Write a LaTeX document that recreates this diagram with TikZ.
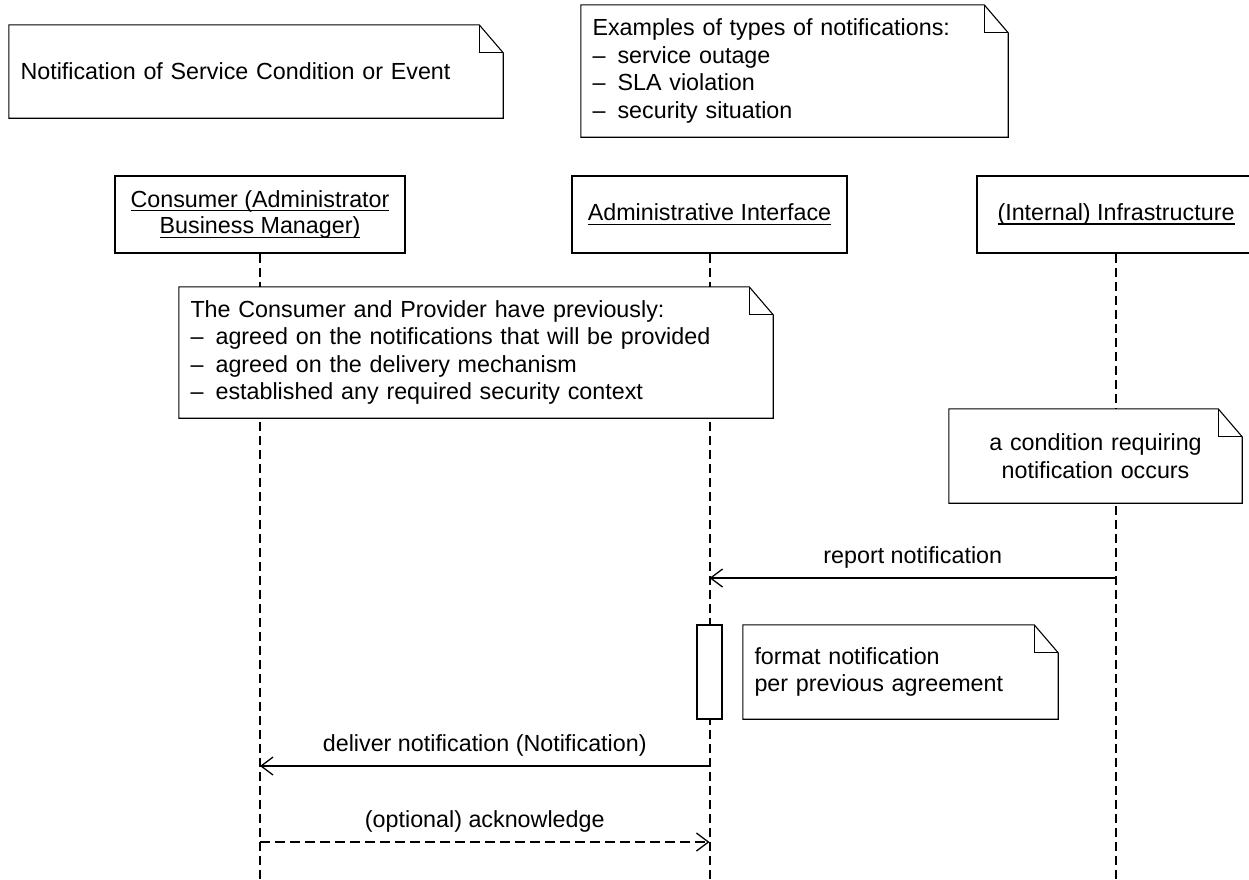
\documentclass[tikz,border=0pt]{standalone}
\usepackage{fontspec}
\setmainfont{Liberation Sans}
\usetikzlibrary{arrows.meta}

% outline of a UML note with a folded top-right corner
\newcommand\dogear[1]{%
  \draw[noteline] (#1.north west) -- ([xshift=-24pt]#1.north east)
    -- ([yshift=-28pt]#1.north east) -- (#1.south east) -- (#1.south west) -- cycle;
  \draw[noteline] ([xshift=-24pt]#1.north east) |- ([yshift=-28pt]#1.north east);}

% underline at a fixed distance below the baseline
\newcommand\ulname[1]{\setbox0\hbox{#1}\rlap{\rule[-4pt]{\wd0}{1.2pt}}\box0}

\begin{document}
\begin{tikzpicture}[x=1pt,y=-1pt,
  every node/.style={font=\fontsize{23.3}{27.5}\selectfont, text=black},
  note/.style={fill=white, inner xsep=11.5pt, inner ysep=0pt, align=left},
  noteline/.style={line width=1.1pt, line join=miter},
  head/.style={draw, line width=1.1pt, fill=white, inner sep=0pt,
               minimum height=77pt, align=center},
  lifeline/.style={line width=2pt, dash pattern=on 9pt off 5pt},
  msg/.style={line width=1.3pt,
              -{Straight Barb[length=12pt,width=18pt,line width=1.3pt]}},
  reply/.style={msg, dash pattern=on 10pt off 5pt},
  lbl/.style={anchor=base, yshift=15pt, inner sep=0pt}]

\useasboundingbox (0,0) rectangle (1249,879);

% participants
\node[head, minimum width=290pt] (cons) at (260,214.5)
  {\ulname{Consumer (Administrator}\\[-1pt]\ulname{Business Manager)}};
\node[head, minimum width=275pt] (admin) at (709.5,214.5)
  {\ulname{Administrative Interface}};
\node[head, minimum width=278pt] (infra) at (1116,214.5)
  {\ulname{(Internal) Infrastructure}};

% lifelines
\coordinate (floor) at (0,885);
\draw[lifeline] (cons.south) -- (cons.south |- floor);
\draw[lifeline] (admin.south) -- (admin.south |- floor);
\draw[lifeline] (infra.south) -- (infra.south |- floor);

% notes
\node[note, minimum width=494pt, minimum height=93pt, text width=471pt]
  (title) at (256,71.5) {Notification of Service Condition or Event};
\dogear{title}

\node[note, minimum width=427pt, minimum height=132pt, text width=404pt]
  (kinds) at (794.5,71)
  {Examples of types of notifications:\\
   \textendash\hspace{0.52em}service outage\\
   \textendash\hspace{0.52em}SLA violation\\
   \textendash\hspace{0.52em}security situation};
\dogear{kinds}

\node[note, minimum width=594pt, minimum height=131pt, text width=571pt]
  (prior) at (476,352.5)
  {The Consumer and Provider have previously:\\
   \textendash\hspace{0.52em}agreed on the notifications that will be provided\\
   \textendash\hspace{0.52em}agreed on the delivery mechanism\\
   \textendash\hspace{0.52em}established any required security context};
\dogear{prior}

\node[note, align=center, minimum width=293pt, minimum height=94pt, text width=270pt]
  (cond) at (1095.5,456)
  {a condition requiring\\notification occurs};
\dogear{cond}

% activation and its note
\node[draw, line width=1.1pt, fill=white, inner sep=0pt,
      minimum width=25pt, minimum height=94pt] (act) at (709.5,672) {};

\node[note, minimum width=315pt, minimum height=94pt, text width=292pt]
  (fmt) at (900.5,672)
  {format notification\\per previous agreement};
\dogear{fmt}

% messages
\coordinate (yrep) at (0,578);
\coordinate (ydel) at (0,766);
\coordinate (yack) at (0,842);
\coordinate (repA) at (infra.south |- yrep);
\coordinate (repB) at (admin.south |- yrep);
\coordinate (delA) at (admin.south |- ydel);
\coordinate (delB) at (cons.south |- ydel);
\coordinate (ackA) at (cons.south |- yack);
\coordinate (ackB) at (admin.south |- yack);

\draw[msg] (repA) -- node[lbl] {report notification} (repB);
\draw[msg] (delA) -- node[lbl] {deliver notification (Notification)} (delB);
\draw[reply] (ackA) -- node[lbl] {(optional) acknowledge} (ackB);

\end{tikzpicture}
\end{document}
